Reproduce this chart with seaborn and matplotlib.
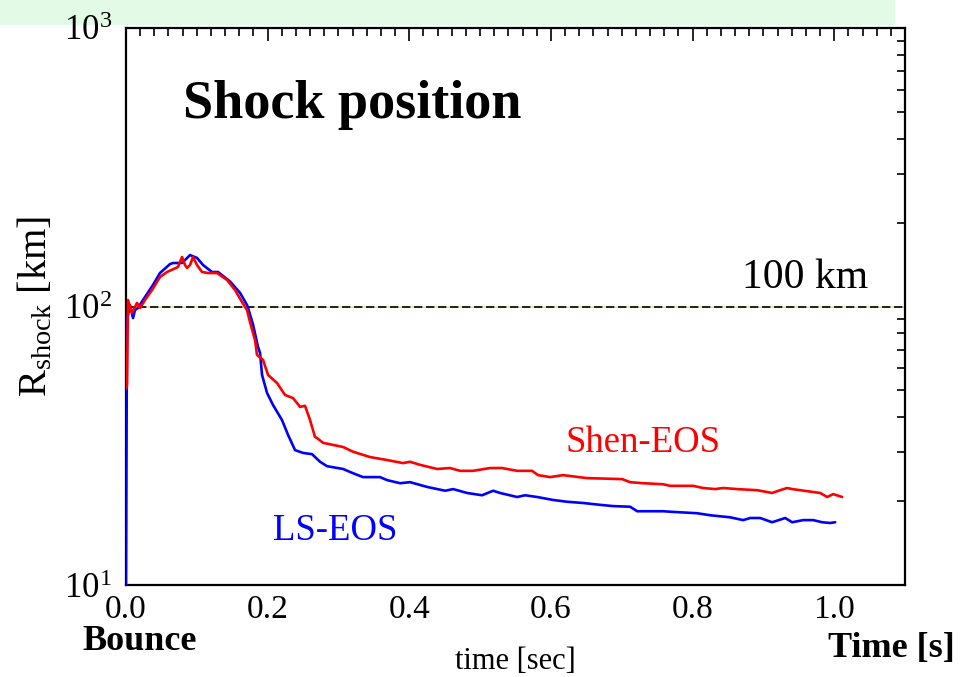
import numpy as np
import pandas as pd
import matplotlib
matplotlib.use("Agg")
import matplotlib.pyplot as plt
from matplotlib.patches import Rectangle
from matplotlib.ticker import FixedLocator, MultipleLocator, LogLocator, NullFormatter
import seaborn as sns

# Shock radius after bounce, LS equation of state
ls_time = [0.000, 0.0014, 0.0056, 0.0099, 0.0127, 0.0169, 0.024, 0.0381, 0.048, 0.0621,
           0.0664, 0.0791, 0.0904, 0.1003, 0.1088, 0.1215, 0.1299, 0.1469, 0.161, 0.1709,
           0.1723, 0.1794, 0.1864, 0.1893, 0.1921, 0.1992, 0.2076, 0.2203, 0.2288, 0.2387,
           0.25, 0.2627, 0.274, 0.2839, 0.3065, 0.3206, 0.3347, 0.3588, 0.3686, 0.387,
           0.4011, 0.4251, 0.4506, 0.4619, 0.4816, 0.5028, 0.5184, 0.5282, 0.5523, 0.5636,
           0.5805, 0.6031, 0.6229, 0.6455, 0.6695, 0.6879, 0.7119, 0.7218, 0.7401, 0.7585,
           0.7726, 0.8065, 0.8249, 0.8531, 0.8715, 0.8814, 0.8955, 0.9124, 0.9308, 0.9407,
           0.9562, 0.9703, 0.9831, 0.9944, 1.0014]
ls_radius = [10.0, 89.5, 101.2, 90.9, 97.1, 98.8, 105.5, 119.5, 131.9, 142.0,
             143.3, 143.3, 153.0, 149.4, 140.9, 133.0, 133.0, 123.0, 112.0, 101.2,
             99.0, 86.0, 71.6, 68.1, 56.8, 48.9, 44.3, 39.1, 34.6, 30.5,
             29.8, 29.5, 27.7, 26.7, 26.1, 25.2, 24.4, 24.4, 23.8, 23.2,
             23.4, 22.5, 21.8, 22.1, 21.4, 21.0, 21.8, 21.4, 20.7, 21.0,
             20.7, 20.2, 19.9, 19.7, 19.4, 19.2, 19.1, 18.4, 18.4, 18.4,
             18.3, 18.1, 17.8, 17.5, 17.1, 17.4, 17.4, 16.8, 17.4, 16.8,
             17.1, 17.1, 16.8, 16.7, 16.8]

# Shock radius after bounce, Shen equation of state
shen_time = [0.000, 0.0014, 0.0028, 0.0085, 0.0155, 0.0198, 0.0268, 0.0367, 0.048, 0.0579,
             0.0734, 0.0791, 0.0833, 0.0862, 0.0904, 0.0946, 0.1003, 0.1073, 0.1158, 0.1285,
             0.1427, 0.154, 0.1638, 0.1709, 0.1751, 0.1794, 0.1822, 0.185, 0.1935, 0.2006,
             0.2133, 0.2246, 0.2359, 0.2458, 0.2528, 0.2599, 0.2669, 0.2698, 0.2782, 0.3065,
             0.3206, 0.3446, 0.3686, 0.3912, 0.4011, 0.4153, 0.4393, 0.4576, 0.4718, 0.4901,
             0.5141, 0.5311, 0.5523, 0.5734, 0.5819, 0.5989, 0.6172, 0.6511, 0.7006, 0.7119,
             0.7302, 0.7585, 0.7684, 0.8008, 0.815, 0.8319, 0.8432, 0.863, 0.8912, 0.9124,
             0.9237, 0.9336, 0.9407, 0.952, 0.9689, 0.9802, 0.9901, 0.9986, 1.0113]
shen_radius = [50.6, 52.0, 105.5, 94.8, 103.0, 98.8, 105.5, 114.6, 127.6, 133.0,
               138.6, 150.6, 140.9, 137.5, 140.9, 150.6, 140.9, 133.0, 131.9, 131.9,
               124.5, 114.6, 103.8, 97.1, 88.0, 80.3, 75.8, 67.0, 64.3, 56.8,
               53.1, 48.1, 46.9, 43.6, 44.0, 39.1, 34.0, 33.7, 32.4, 31.3,
               30.1, 28.8, 28.1, 27.4, 27.7, 27.0, 26.1, 26.3, 25.7, 25.7,
               26.3, 26.3, 25.7, 25.7, 24.8, 24.4, 24.8, 24.2, 24.0, 23.4,
               23.2, 23.0, 22.7, 22.7, 22.3, 22.1, 22.3, 22.1, 21.9, 21.4,
               21.9, 22.3, 22.1, 21.9, 21.6, 21.4, 20.7, 21.2, 20.7]

series_names = ["LS-EOS", "Shen-EOS"]
series_colors = ["#0000ff", "#ff0000"]
x_ticks = [0.0, 0.2, 0.4, 0.6, 0.8, 1.0]
x_tick_labels = ["0.0", "0.2", "0.4", "0.6", "0.8", "1.0"]
y_ticks = [10, 100, 1000]
y_tick_labels = [r"$10^1$", r"$10^2$", r"$10^3$"]
reference_radius = 100

df = pd.concat([
    pd.DataFrame({"time": ls_time, "radius": ls_radius, "eos": series_names[0]}),
    pd.DataFrame({"time": shen_time, "radius": shen_radius, "eos": series_names[1]}),
], ignore_index=True)

sns.set_style("white")
plt.rcParams["font.family"] = ["Liberation Serif", "DejaVu Serif"]
plt.rcParams["mathtext.fontset"] = "custom"
plt.rcParams["mathtext.rm"] = "Liberation Serif"
plt.rcParams["mathtext.it"] = "Liberation Serif:italic"
plt.rcParams["mathtext.bf"] = "Liberation Serif:bold"
for key in ["text.color", "axes.labelcolor", "xtick.color", "ytick.color", "axes.edgecolor"]:
    plt.rcParams[key] = "black"

W, H = 970, 677
fig = plt.figure(figsize=(W / 100, H / 100), dpi=100)
fig.patch.set_facecolor("white")

def fx(px):
    return px / W

def fy(py):
    return 1 - py / H

# pale green banner strip along the top edge
fig.patches.append(Rectangle((0, fy(25)), fx(895), 25 / H, transform=fig.transFigure,
                             facecolor="#e3fbe6", edgecolor="none", zorder=-10))

ax = fig.add_axes([fx(126), fy(585), fx(905) - fx(126), (585 - 28) / H])
ax.set_facecolor("white")

ax.axhline(reference_radius, color="#f2e3a6", lw=1.4, zorder=1)
ax.axhline(reference_radius, color="black", lw=1.2, ls=(0, (5, 2.2)), zorder=2)

sns.lineplot(data=df, x="time", y="radius", hue="eos", palette=series_colors,
             hue_order=series_names, estimator=None, sort=False, lw=1.9,
             legend=False, ax=ax, zorder=3)

ax.set_yscale("log")
ax.set_xlim(0, 1.1)
ax.set_ylim(10, 1000)

ax.xaxis.set_major_locator(FixedLocator(x_ticks))
ax.set_xticklabels(x_tick_labels)
ax.xaxis.set_minor_locator(MultipleLocator(0.02))
ax.yaxis.set_major_locator(FixedLocator(y_ticks))
ax.set_yticklabels(y_tick_labels)
ax.yaxis.set_minor_locator(LogLocator(base=10, subs=np.arange(2, 10)))
ax.yaxis.set_minor_formatter(NullFormatter())

ax.tick_params(which="both", direction="in", top=True, right=True, color="black", width=1.2)
ax.tick_params(which="major", length=9)
ax.tick_params(which="minor", length=5.5)
ax.tick_params(axis="x", which="major", labelsize=24, pad=7)
ax.tick_params(axis="y", which="major", labelsize=25, pad=10)
for s in ax.spines.values():
    s.set_color("black")
    s.set_linewidth(1.6)

ax.set_xlabel("time [sec]", fontsize=22, labelpad=16)
ax.set_ylabel(r"R$_{\rm shock}$ [km]", fontsize=29, labelpad=6)

fig.text(fx(183), fy(118), "Shock position", fontsize=39, fontweight="bold", va="baseline")
fig.text(fx(742), fy(288), "100 km", fontsize=30, va="baseline")
fig.text(fx(566), fy(452), "Shen-EOS", fontsize=26.5, color=series_colors[1], va="baseline")
fig.text(fx(273), fy(540), "LS-EOS", fontsize=26.5, color=series_colors[0], va="baseline")
fig.text(fx(82), fy(650), "Bounce", fontsize=26, fontweight="bold", va="baseline")
fig.text(fx(828), fy(657), "Time [s]", fontsize=26, fontweight="bold", va="baseline")

fig.savefig("out.png", dpi=100, facecolor="white")
